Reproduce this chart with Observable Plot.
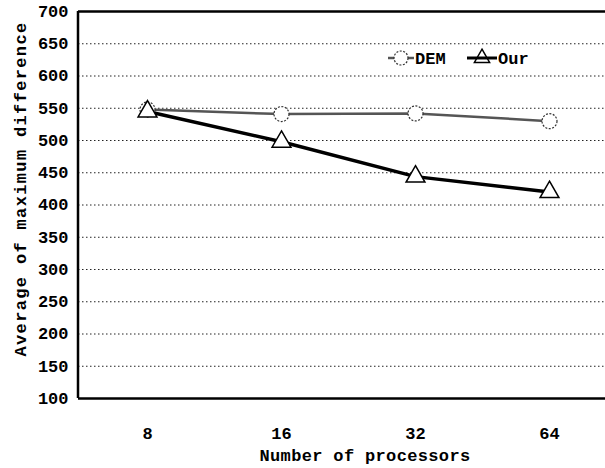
<!DOCTYPE html>
<html><head><meta charset="utf-8">
<script src="https://cdn.jsdelivr.net/npm/d3@7"></script>
<script src="https://cdn.jsdelivr.net/npm/@observablehq/plot@0.6"></script>
<style>
body{margin:0;background:#fff}
#chart svg{font-family:"Liberation Mono","DejaVu Sans Mono",monospace;}
</style>
</head><body><div id="chart"></div>
<script>
const processors = ["8", "16", "32", "64"];
const demValues = [548, 541, 542, 530];
const ourValues = [545, 498, 444, 420];
const seriesNames = ["DEM", "Our"];
const yTicks = [100, 150, 200, 250, 300, 350, 400, 450, 500, 550, 600, 650, 700];
const xLabel = "Number of processors";
const yLabel = "Average of maximum difference";

const dem = processors.map((p, i) => ({p, v: demValues[i]}));
const our = processors.map((p, i) => ({p, v: ourValues[i]}));

// left border of the plot frame
const leftBorder = (index, scales, values, dim) => {
  const x = dim.marginLeft;
  const g = d3.create("svg:g");
  g.append("line").attr("x1", x).attr("x2", x)
    .attr("y1", scales.y(yTicks[0])).attr("y2", scales.y(yTicks[yTicks.length - 1]))
    .attr("stroke", "#000").attr("stroke-width", 2.5);
  return g.node();
};

const legend = (index, scales, values, dim) => {
  const g = d3.create("svg:g").attr("font-size", 17).attr("font-weight", "bold")
    .attr("text-anchor", "start")
    .attr("font-family", "'Liberation Mono', monospace");
  const y = 58;
  const x0 = dim.marginLeft;
  // DEM
  g.append("line").attr("x1", x0 + 310).attr("x2", x0 + 336).attr("y1", y).attr("y2", y)
    .attr("stroke", "#555").attr("stroke-width", 2.5);
  g.append("circle").attr("cx", x0 + 323).attr("cy", y).attr("r", 7)
    .attr("fill", "white").attr("stroke", "#333").attr("stroke-dasharray", "2,1.5").attr("stroke-width", 1.2);
  g.append("text").attr("x", x0 + 337).attr("y", y).attr("dy", "0.35em").attr("text-anchor", "start").text(seriesNames[0]);
  // Our
  g.append("line").attr("x1", x0 + 389).attr("x2", x0 + 419).attr("y1", y).attr("y2", y)
    .attr("stroke", "#000").attr("stroke-width", 3);
  g.append("path").attr("d", d3.symbol(d3.symbolTriangle, 100)()).attr("transform", `translate(${x0 + 404},${y})`)
    .attr("fill", "none").attr("stroke", "#000").attr("stroke-width", 1.5);
  g.append("text").attr("x", x0 + 420).attr("y", y).attr("dy", "0.35em").attr("text-anchor", "start").text(seriesNames[1]);
  return g.node();
};

const chart = Plot.plot({
  width: 605,
  height: 468,
  marginLeft: 78,
  marginRight: -12,
  marginTop: 11,
  marginBottom: 70,
  style: {fontFamily: "'Liberation Mono', monospace", fontSize: "17px", fontWeight: "bold", color: "#000", background: "#fff"},
  x: {type: "point", domain: processors, padding: 0.5},
  y: {domain: [100, 700]},
  marks: [
    Plot.ruleY(yTicks.slice(1, -1), {stroke: "#222", strokeWidth: 1, strokeDasharray: "1.5,2.5"}),
    Plot.ruleY([100, 700], {stroke: "#000", strokeWidth: 2.5}),
    leftBorder,
    Plot.axisY({ticks: yTicks, tickSize: 0, tickPadding: 10, label: null, fontSize: 17, fontWeight: "bold"}),
    Plot.axisX({tickSize: 0, tickPadding: 28, label: null, fontSize: 17, fontWeight: "bold"}),
    Plot.line(dem, {x: "p", y: "v", stroke: "#555", strokeWidth: 2.5}),
    Plot.line(our, {x: "p", y: "v", stroke: "#000", strokeWidth: 3.5}),
    Plot.dot(dem, {x: "p", y: "v", r: 7.5, fill: "white", stroke: "#333", strokeWidth: 1.2, strokeDasharray: "2,1.5"}),
    Plot.dot(our, {x: "p", y: "v", symbol: "triangle", r: 7, fill: "white", stroke: "#000", strokeWidth: 1.5}),
    Plot.text([xLabel], {frameAnchor: "bottom", textAnchor: "middle", dx: 17, dy: 62, fontSize: 17, fontWeight: "bold"}),
    Plot.text([yLabel], {frameAnchor: "left", textAnchor: "middle", dx: -58, dy: -16, rotate: -90, fontSize: 17, fontWeight: "bold"}),
    legend
  ]
});
d3.select(chart).selectAll("text").each(function() {
  const t = this.textContent;
  if (t === xLabel) d3.select(this).attr("letter-spacing", 0.35);
  if (t === yLabel) d3.select(this).attr("letter-spacing", 1.35);
});
document.getElementById("chart").appendChild(chart);
</script>
</body></html>
